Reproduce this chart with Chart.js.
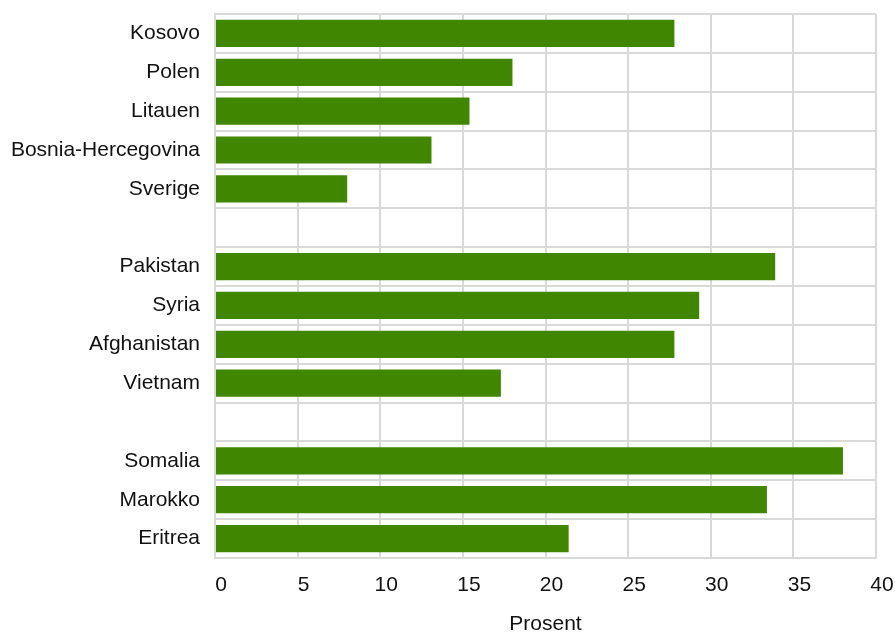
<!DOCTYPE html>
<html>
<head>
<meta charset="utf-8">
<script src="https://cdn.jsdelivr.net/npm/chart.js@4"></script>
<style>
  body { margin: 0; background: #fff; }
</style>
</head>
<body>
<canvas id="chart" width="895" height="634"></canvas>
<script>
// countries, with blank rows separating the groups
var countries = [
    'Kosovo', 'Polen', 'Litauen', 'Bosnia-Hercegovina', 'Sverige',
    '',
    'Pakistan', 'Syria', 'Afghanistan', 'Vietnam',
    '',
    'Somalia', 'Marokko', 'Eritrea'
];
var percent = [
    27.8, 18.0, 15.4, 13.1, 8.0,
    null,
    33.9, 29.3, 27.8, 17.3,
    null,
    38.0, 33.4, 21.4
];
var xTicks = [0, 5, 10, 15, 20, 25, 30, 35, 40];

var gridColour = '#d9d9d9';
var font = { family: 'Liberation Sans, Arial, sans-serif', size: 21 };

var ctx = document.getElementById('chart').getContext('2d');

var chart = new Chart(ctx, {
    type: 'bar',
    data: {
        labels: countries,
        datasets: [{
            label: 'Prosent',
            data: percent,
            backgroundColor: '#408600',
            borderWidth: 0,
            categoryPercentage: 1,
            barPercentage: 0.7
        }]
    },
    options: {
        indexAxis: 'y',
        responsive: false,
        animation: false,
        layout: { padding: 0 },
        plugins: {
            legend: { display: false },
            tooltip: { enabled: false }
        },
        scales: {
            x: {
                min: 0,
                max: 40,
                afterBuildTicks: function (scale) {
                    scale.ticks = xTicks.map(v => ({ value: v }));
                },
                afterFit: function (scale) {
                    scale.height = 76;
                    scale.paddingLeft = 0;
                    scale.paddingRight = 19;
                },
                grid: { color: gridColour, lineWidth: 2, drawTicks: false },
                border: { color: gridColour, width: 2 },
                ticks: {
                    color: '#111',
                    font: font,
                    padding: 15,
                    labelOffset: 6,
                    maxRotation: 0
                },
                title: {
                    display: true,
                    text: 'Prosent',
                    color: '#111',
                    font: font,
                    padding: { top: 13, bottom: -3 }
                }
            },
            y: {
                afterFit: function (scale) {
                    scale.width = 215;
                    scale.paddingTop = 14;
                    scale.paddingBottom = 0;
                },
                grid: { color: gridColour, lineWidth: 2, drawTicks: false, offset: true },
                border: { color: gridColour, width: 2 },
                ticks: {
                    color: '#111',
                    font: font,
                    padding: 15,
                    autoSkip: false
                }
            }
        }
    }
});
</script>
</body>
</html>
